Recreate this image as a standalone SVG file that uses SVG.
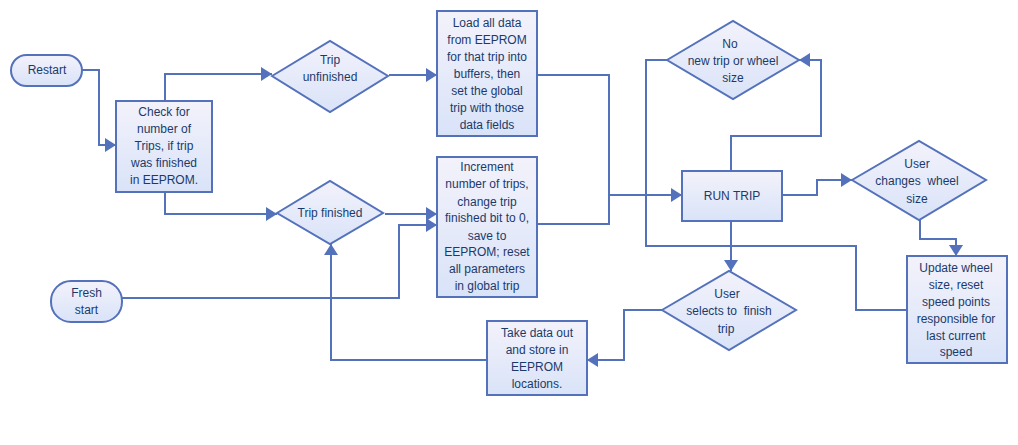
<svg xmlns="http://www.w3.org/2000/svg" width="1018" height="445" viewBox="0 0 1018 445">
<defs>
<linearGradient id="g" x1="0" y1="0" x2="0" y2="1">
<stop offset="0" stop-color="#f3f2fb"/>
<stop offset="1" stop-color="#d9e3f8"/>
</linearGradient>
<marker id="ah" markerUnits="userSpaceOnUse" markerWidth="12" markerHeight="14" refX="11" refY="7" orient="auto">
<path d="M0,0 L11,7 L0,14 z" fill="#5472bb"/>
</marker>
</defs>
<style>
.n{fill:url(#g);stroke:#5472bb;stroke-width:2}
.c{fill:none;stroke:#5472bb;stroke-width:2}
.a{marker-end:url(#ah)}
text{font-family:"Liberation Sans",Arial,sans-serif;font-size:12px;fill:#1b3a6b;text-anchor:middle;white-space:pre}
</style>
<rect width="1018" height="445" fill="#ffffff"/>
<g id="connectors">
<path class="c a" d="M82,70 H99 V145 H116"/>
<path class="c a" d="M165,101 V74 H272"/>
<path class="c a" d="M165,192 V214 H277"/>
<path class="c a" d="M389,75 H437"/>
<path class="c a" d="M385,214 H437"/>
<path class="c a" d="M122,298 H399 V225 H437"/>
<path class="c a" d="M537,75 H609 V195 H682"/>
<path class="c" d="M537,224 H609 V195"/>
<path class="c a" d="M731,171 V136 H821 V60 H799"/>
<path class="c" d="M667,60 H646 V246 H856 V310 H907"/>
<path class="c a" d="M782,195 H817 V180 H852"/>
<path class="c a" d="M920,220 V239 H956 V256"/>
<path class="c a" d="M731,221 V271"/>
<path class="c a" d="M662,310 H624 V360 H587"/>
<path class="c a" d="M487,360 H331 V244"/>
</g>
<g id="restart">
<rect class="n" x="11" y="55" width="71" height="31" rx="15.5"/>
<text x="47" y="74">Restart</text>
</g>
<g id="fresh-start">
<rect class="n" x="51" y="281" width="71" height="41" rx="20"/>
<text x="86.5" y="297">Fresh</text>
<text x="86.5" y="314">start</text>
</g>
<g id="check">
<rect class="n" x="116" y="101" width="96" height="91"/>
<text x="164" y="116">Check for</text>
<text x="164" y="133">number of</text>
<text x="164" y="150">Trips, if trip</text>
<text x="164" y="167">was finished</text>
<text x="164" y="184">in EEPROM.</text>
</g>
<g id="trip-unfinished">
<polygon class="n" points="272,76 330,41 388,76 330,112"/>
<text x="330" y="64">Trip</text>
<text x="330" y="81">unfinished</text>
</g>
<g id="trip-finished">
<polygon class="n" points="277,213 330,181 383,213 330,244"/>
<text x="330" y="217">Trip finished</text>
</g>
<g id="load">
<rect class="n" x="437" y="11" width="100" height="125"/>
<text x="487" y="27">Load all data</text>
<text x="487" y="44">from EEPROM</text>
<text x="487" y="61">for that trip into</text>
<text x="487" y="78">buffers, then</text>
<text x="487" y="95">set the global</text>
<text x="487" y="112">trip with those</text>
<text x="487" y="129">data fields</text>
</g>
<g id="increment">
<rect class="n" x="437" y="157" width="100" height="140"/>
<text x="487" y="171">Increment</text>
<text x="487" y="188">number of trips,</text>
<text x="487" y="206">change trip</text>
<text x="487" y="222">finished bit to 0,</text>
<text x="487" y="240">save to</text>
<text x="487" y="256">EEPROM; reset</text>
<text x="487" y="273">all parameters</text>
<text x="487" y="290">in global trip</text>
</g>
<g id="run-trip">
<rect class="n" x="682" y="171" width="100" height="50"/>
<text x="732" y="200">RUN TRIP</text>
</g>
<g id="no-new-trip">
<polygon class="n" points="667,60 733,21 799,60 733,99"/>
<text x="730" y="48">No</text>
<text x="733" y="65">new trip or wheel</text>
<text x="733" y="82">size</text>
</g>
<g id="user-changes">
<polygon class="n" points="852,180 919,141 986,180 919,220"/>
<text x="917" y="168">User</text>
<text x="917" y="185">changes  wheel</text>
<text x="917" y="203">size</text>
</g>
<g id="update">
<rect class="n" x="907" y="256" width="100" height="107"/>
<text x="956" y="272">Update wheel</text>
<text x="956" y="289">size, reset</text>
<text x="956" y="306">speed points</text>
<text x="956" y="323">responsible for</text>
<text x="956" y="340">last current</text>
<text x="956" y="356">speed</text>
</g>
<g id="user-selects">
<polygon class="n" points="662,310 729,271 796,310 729,350"/>
<text x="727" y="298">User</text>
<text x="729" y="315">selects to  finish</text>
<text x="726" y="333">trip</text>
</g>
<g id="take-data">
<rect class="n" x="487" y="321" width="100" height="74"/>
<text x="537" y="337">Take data out</text>
<text x="537" y="354">and store in</text>
<text x="537" y="371">EEPROM</text>
<text x="537" y="388">locations.</text>
</g>
</svg>
